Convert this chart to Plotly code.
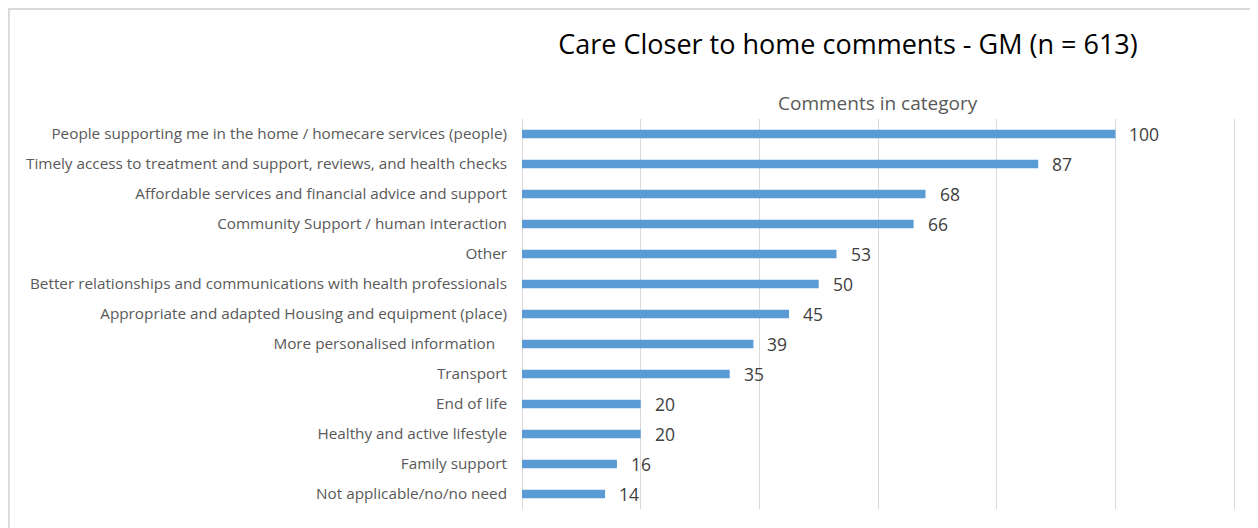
import plotly.graph_objects as go

# data (top to bottom)
categories = [
    'People supporting me in the home / homecare services (people)',
    'Timely access to treatment and support, reviews, and health checks',
    'Affordable services and financial advice and support',
    'Community Support / human interaction',
    'Other',
    'Better relationships and communications with health professionals',
    'Appropriate and adapted Housing and equipment (place)',
    'More personalised information\u00a0\u00a0\u00a0',
    'Transport',
    'End of life',
    'Healthy and active lifestyle',
    'Family support',
    'Not applicable/no/no need',
]
comments = [100, 87, 68, 66, 53, 50, 45, 39, 35, 20, 20, 16, 14]
grid_ticks = [0, 20, 40, 60, 80, 100, 120]

title_text = 'Care Closer to home comments - GM (n = 613)'
axis_title = 'Comments in category'

font_family = 'Open Sans, sans-serif'
bar_color = '#5B9BD5'
label_color = '#595959'

# plotly draws categories bottom-up, so reverse
cats = categories[::-1]
vals = comments[::-1]

fig = go.Figure()
fig.add_trace(go.Bar(
    x=vals,
    y=cats,
    orientation='h',
    width=0.28,
    marker=dict(color=bar_color, line=dict(width=0)),
    hoverinfo='x+y',
))

# value labels next to the bars
for c, v in zip(cats, vals):
    fig.add_annotation(
        x=v, y=c, text=str(v),
        xanchor='left', yanchor='middle',
        xshift=12, showarrow=False,
        font=dict(size=17.5, color='#404040', family=font_family),
    )

fig.add_annotation(
    x=60, y=1, xref='x', yref='paper',
    text=axis_title, showarrow=False,
    xanchor='center', yanchor='middle', yshift=16,
    font=dict(size=19, color=label_color, family=font_family),
)

# light grey chart border (bottom edge falls outside the picture)
fig.add_shape(
    type='rect', xref='paper', yref='paper',
    x0=-0.7147, x1=1.0212, y0=-0.2, y1=1.282,
    line=dict(color='#D9D9D9', width=2), layer='below',
)

# page body adds an 8px offset, so the figure is 8px smaller
fig.update_layout(
    width=1250, height=520,
    margin=dict(l=514, r=18, t=111, b=19),
    paper_bgcolor='white',
    plot_bgcolor='white',
    showlegend=False,
    title=dict(
        text=title_text,
        x=0.672, xanchor='center',
        y=0.929, yanchor='middle',
        font=dict(size=27, color='black', family=font_family),
    ),
    xaxis=dict(
        range=[0, 121],
        tickvals=grid_ticks,
        showticklabels=False,
        showgrid=True,
        gridcolor='#D9D9D9',
        gridwidth=1,
        zeroline=True,
        zerolinecolor='#D9D9D9',
        zerolinewidth=1,
        showline=False,
        fixedrange=True,
    ),
    yaxis=dict(
        categoryorder='array',
        categoryarray=cats,
        tickfont=dict(size=15.3, color=label_color, family=font_family),
        ticks='',
        ticklabelstandoff=14,
        showgrid=False,
        showline=False,
        fixedrange=True,
    ),
)

fig.write_html('out.html')
